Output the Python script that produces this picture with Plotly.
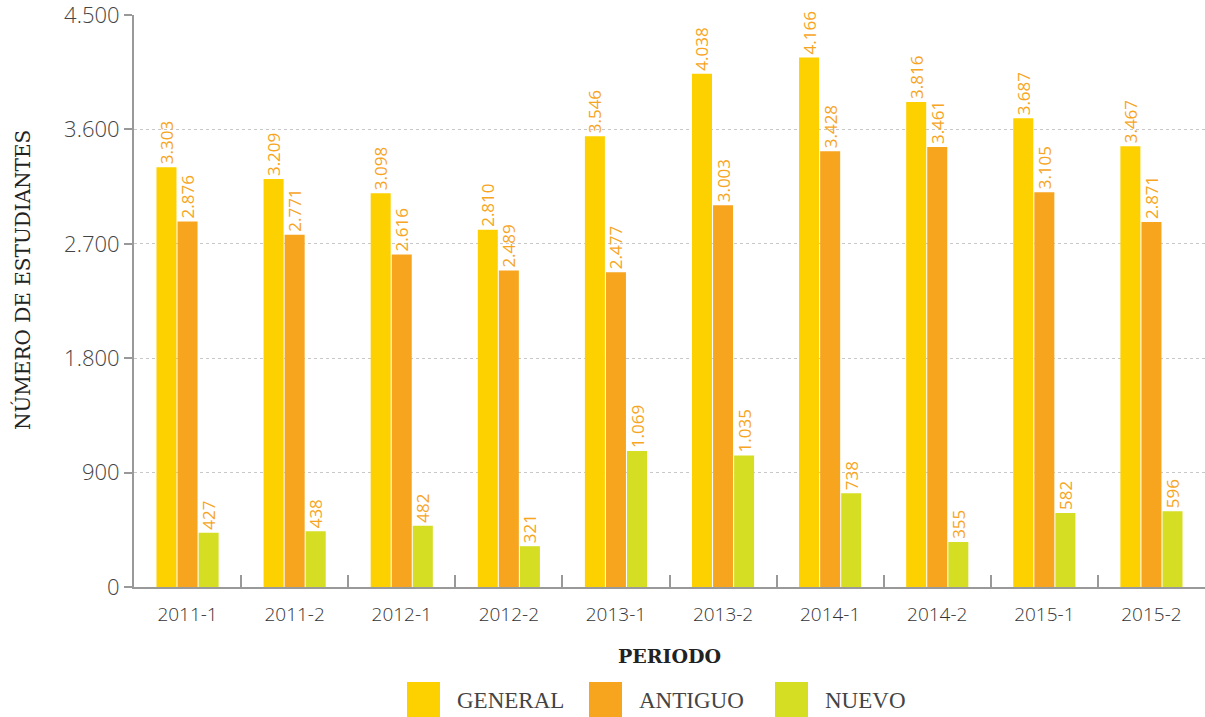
import plotly.graph_objects as go

periodos = ["2011-1", "2011-2", "2012-1", "2012-2", "2013-1", "2013-2", "2014-1", "2014-2", "2015-1", "2015-2"]
general = [3303, 3209, 3098, 2810, 3546, 4038, 4166, 3816, 3687, 3467]
antiguo = [2876, 2771, 2616, 2489, 2477, 3003, 3428, 3461, 3105, 2871]
nuevo = [427, 438, 482, 321, 1069, 1035, 738, 355, 582, 596]
series_names = ["GENERAL", "ANTIGUO", "NUEVO"]
colors = ["#FDD000", "#F7A51E", "#D6DE23"]
y_ticks = [0, 900, 1800, 2700, 3600, 4500]

LIGHT = dict(family="Open Sans", weight=300)

fig = go.Figure()
for name, vals, col in zip(series_names, [general, antiguo, nuevo], colors):
    fig.add_trace(go.Bar(
        x=periodos, y=vals, name=name, marker_color=col, marker_line_width=0,
        text=[f"{v:,}".replace(",", ".") for v in vals],
        textposition="outside", textangle=-90, cliponaxis=False,
        constraintext="none",
        textfont=dict(family="Open Sans", size=17, color="#F7A51E"),
        showlegend=False,
    ))

fig.update_layout(
    width=1205, height=717,
    margin=dict(l=134, r=0, t=15, b=130),
    plot_bgcolor="white", paper_bgcolor="white",
    barmode="group", bargap=0.41, bargroupgap=0.05,
    separators=",.",
    font=dict(family="Open Sans", color="#444"),
)
fig.update_xaxes(
    type="category", automargin=False,
    showline=True, linecolor="#999", linewidth=2,
    ticks="inside", tickson="boundaries", ticklen=12, tickcolor="#999", tickwidth=2,
    ticklabelstandoff=9,
    tickfont=dict(size=19, color="#333", **LIGHT),
    title=dict(text="<b>PERIODO</b>", font=dict(family="DejaVu Serif", size=19, color="#222"), standoff=24),
)
fig.update_yaxes(
    automargin=False, ticklabeloverflow="allow",
    range=[0, 4500], tickvals=y_ticks,
    ticktext=[f"{v:,}".replace(",", ".") for v in y_ticks],
    showline=True, linecolor="#999", linewidth=2,
    ticks="outside", ticklen=8, tickcolor="#999", tickwidth=2,
    showgrid=True, gridcolor="#C8C8C8", griddash="dot", gridwidth=1,
    zeroline=False,
    tickfont=dict(size=22, color="#444", **LIGHT),
)

# y-axis title placed as annotation (centered like the reference)
fig.add_annotation(xref="paper", yref="paper", x=(22 - 134) / 1071, y=(587 - 280) / 572,
                   text="NÚMERO DE ESTUDIANTES", textangle=-90, showarrow=False,
                   xanchor="center", yanchor="middle",
                   font=dict(family="DejaVu Serif", size=20, color="#222"))

# custom legend with large square swatches
legend_x = [407, 589, 775]  # pixel left edges
for name, col, px in zip(series_names, colors, legend_x):
    x0 = (px - 134) / (1205 - 134)
    x1 = (px + 33 - 134) / (1205 - 134)
    fig.add_shape(type="rect", xref="paper", yref="paper",
                  x0=x0, x1=x1, y0=(587 - 717) / 572, y1=(587 - 682) / 572,
                  fillcolor=col, line_width=0)
    fig.add_annotation(xref="paper", yref="paper", x=(px + 48 - 134) / 1071,
                       y=(587 - 700) / 572, text=name, showarrow=False,
                       xanchor="left", yanchor="middle",
                       font=dict(family="Liberation Serif", size=23, color="#444"))

fig.write_html("out.html", config={"displayModeBar": False},
               post_script="document.body.style.margin='0';document.body.style.overflow='hidden';")
